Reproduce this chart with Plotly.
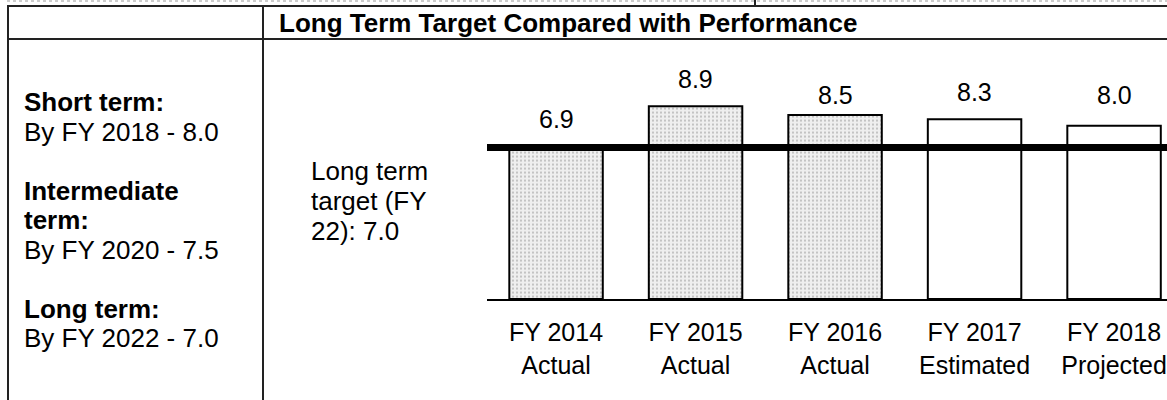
import plotly.graph_objects as go

# ---------------- data ----------------
categories = ["FY 2014", "FY 2015", "FY 2016", "FY 2017", "FY 2018"]
category_sub = ["Actual", "Actual", "Actual", "Estimated", "Projected"]
values = [6.9, 8.9, 8.5, 8.3, 8.0]
value_labels = ["6.9", "8.9", "8.5", "8.3", "8.0"]
is_actual = [True, True, True, False, False]
target_value = 7.0

title_text = "Long Term Target Compared with Performance"
left_lines = [
    ("Short term:", True),
    ("By FY 2018 - 8.0", False),
    ("Intermediate", True),
    ("term:", True),
    ("By FY 2020 - 7.5", False),
    ("Long term:", True),
    ("By FY 2022 - 7.0", False),
]
target_note_lines = ["Long term", "target (FY", "22): 7.0"]

# ---------------- layout constants (pixels) ----------------
W, H = 1167, 400
FONT = "Liberation Sans, Arial, sans-serif"
FS_TEXT = 26
FS_LABEL = 25

def px(x):
    return x / W

def py(y):
    return 1 - y / H

# text line centres (px from top); blank line between blocks, ~29.5 px line pitch
left_line_y = [102, 131.5, 190.5, 220, 249.5, 308.5, 338]
note_line_y = [171, 201, 231]
label_yshift = [31, 27, 20, 27, 31]

fig = go.Figure()

fills = ["#efefef" if a else "white" for a in is_actual]

fig.add_trace(go.Bar(
    x=list(range(len(categories))),
    y=values,
    width=0.67,
    marker=dict(
        color=fills,
        line=dict(color="black", width=2),
        pattern=dict(
            shape=["." if a else "" for a in is_actual],
            fgcolor="#bdbdbd",
            bgcolor=fills,
            size=4,
            solidity=0.15,
        ),
    ),
    hoverinfo="skip",
    showlegend=False,
))

# value labels above bars
for i, (v, t) in enumerate(zip(values, value_labels)):
    fig.add_annotation(
        x=i, y=v, xref="x", yref="y", text=t, showarrow=False,
        yanchor="middle", yshift=label_yshift[i],
        font=dict(family=FONT, size=FS_LABEL, color="black"),
    )

# target line
shapes = [
    dict(type="line", xref="paper", yref="y", x0=px(487), x1=1,
         y0=target_value, y1=target_value,
         line=dict(color="black", width=7), layer="above"),
]

# table lines
tl = dict(color="#222222", width=2)
shapes += [
    dict(type="line", xref="paper", yref="paper", x0=px(7), x1=1, y0=py(6), y1=py(6), line=tl),
    dict(type="line", xref="paper", yref="paper", x0=px(7), x1=1, y0=py(39), y1=py(39), line=tl),
    dict(type="line", xref="paper", yref="paper", x0=px(8), x1=px(8), y0=py(6), y1=0, line=tl),
    dict(type="line", xref="paper", yref="paper", x0=px(263), x1=px(263), y0=py(6), y1=0, line=tl),
    dict(type="line", xref="paper", yref="paper", x0=px(755), x1=px(755), y0=1, y1=py(6), line=tl),
    dict(type="line", xref="paper", yref="paper", x0=px(7), x1=1, y0=py(1), y1=py(1),
         line=dict(color="#999999", width=1, dash="dot")),
]

# header title
fig.add_annotation(
    x=px(277), y=py(23), xref="paper", yref="paper", xanchor="left", yanchor="middle",
    text="<b>" + title_text + "</b>", showarrow=False,
    font=dict(family=FONT, size=FS_TEXT, color="black"),
)

# left column text
for (txt, bold), yy in zip(left_lines, left_line_y):
    fig.add_annotation(
        x=px(22), y=py(yy), xref="paper", yref="paper", xanchor="left", yanchor="middle",
        text=("<b>" + txt + "</b>") if bold else txt, showarrow=False,
        font=dict(family=FONT, size=FS_TEXT, color="black"),
    )

# long-term target note
for txt, yy in zip(target_note_lines, note_line_y):
    fig.add_annotation(
        x=px(309), y=py(yy), xref="paper", yref="paper", xanchor="left", yanchor="middle",
        text=txt, showarrow=False,
        font=dict(family=FONT, size=FS_TEXT, color="black"),
    )

spacing = 139.5
x0 = -0.495
x1 = x0 + (W - 487) / spacing
units = 21.65

fig.update_layout(
    width=W, height=H,
    margin=dict(l=0, r=0, t=0, b=0),
    paper_bgcolor="white", plot_bgcolor="white",
    shapes=shapes,
    xaxis=dict(
        domain=[px(487), 1], range=[x0, x1],
        tickmode="array",
        tickvals=list(range(len(categories))),
        ticktext=[c + "<br>" + s for c, s in zip(categories, category_sub)],
        tickfont=dict(family=FONT, size=FS_LABEL, color="black"),
        showline=True, linecolor="black", linewidth=2,
        showgrid=False, zeroline=False, ticks="",
        ticklabelstandoff=10,
        fixedrange=True,
    ),
    yaxis=dict(
        domain=[py(299), py(299 - 10 * units)], range=[0, 10],
        visible=False, showgrid=False, zeroline=False, fixedrange=True,
    ),
    bargap=0.33,
)

fig.write_html(
    "out.html",
    config={"displayModeBar": False},
    post_script="document.body.style.margin='0';document.body.style.overflow='hidden';",
)
